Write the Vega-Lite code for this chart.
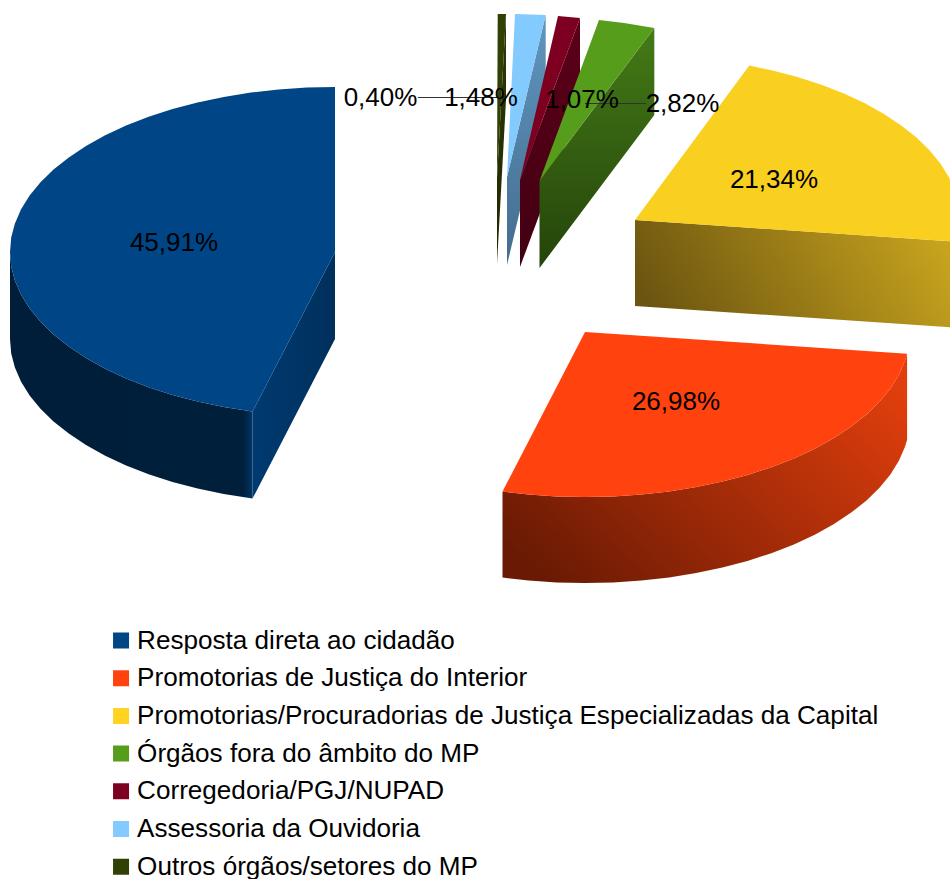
{"$schema":"https://vega.github.io/schema/vega-lite/v6.json","width":950,"height":879,"padding":0,"autosize":{"type":"fit","contains":"padding"},"background":"white","config":{"view":{"stroke":null},"font":"Liberation Sans"},
"datasets":{
"tops":[
{"k":"outros","i":0,"x":497,"y":178},{"k":"outros","i":1,"x":506,"y":14},{"k":"outros","i":2,"x":497.7,"y":14},
{"k":"ouv","i":0,"x":507,"y":177},{"k":"ouv","i":1,"x":545.7,"y":15},{"k":"ouv","i":2,"x":515,"y":14},
{"k":"corr","i":0,"x":520,"y":180},{"k":"corr","i":1,"x":580,"y":18},{"k":"corr","i":2,"x":558,"y":16},
{"k":"fora","i":0,"x":539.5,"y":181},{"k":"fora","i":1,"x":654.3,"y":28},{"k":"fora","i":2,"x":624.1,"y":23},{"k":"fora","i":3,"x":599,"y":20},
{"k":"capital","i":0,"x":635,"y":220},{"k":"capital","i":1,"x":957.1,"y":241.8},{"k":"capital","i":2,"x":958.8,"y":234.4},{"k":"capital","i":3,"x":960,"y":220},{"k":"capital","i":4,"x":958.8,"y":205.6},{"k":"capital","i":5,"x":955.1,"y":191.4},{"k":"capital","i":6,"x":948.9,"y":177.3},{"k":"capital","i":7,"x":940.4,"y":163.6},{"k":"capital","i":8,"x":929.5,"y":150.3},{"k":"capital","i":9,"x":916.5,"y":137.5},{"k":"capital","i":10,"x":901.2,"y":125.4},{"k":"capital","i":11,"x":884,"y":113.9},{"k":"capital","i":12,"x":864.8,"y":103.3},{"k":"capital","i":13,"x":843.9,"y":93.6},{"k":"capital","i":14,"x":821.4,"y":84.8},{"k":"capital","i":15,"x":797.5,"y":77.1},{"k":"capital","i":16,"x":772.4,"y":70.5},{"k":"capital","i":17,"x":749.3,"y":65.5},
{"k":"inter","i":0,"x":585,"y":332},{"k":"inter","i":1,"x":502.5,"y":491.6},{"k":"inter","i":2,"x":528.6,"y":494.5},{"k":"inter","i":3,"x":556.7,"y":496.4},{"k":"inter","i":4,"x":585,"y":497},{"k":"inter","i":5,"x":613.3,"y":496.4},{"k":"inter","i":6,"x":641.4,"y":494.5},{"k":"inter","i":7,"x":669.1,"y":491.4},{"k":"inter","i":8,"x":696.2,"y":487.1},{"k":"inter","i":9,"x":722.4,"y":481.5},{"k":"inter","i":10,"x":747.5,"y":474.9},{"k":"inter","i":11,"x":771.4,"y":467.2},{"k":"inter","i":12,"x":793.9,"y":458.4},{"k":"inter","i":13,"x":814.8,"y":448.7},{"k":"inter","i":14,"x":834,"y":438.1},{"k":"inter","i":15,"x":851.2,"y":426.6},{"k":"inter","i":16,"x":866.5,"y":414.5},{"k":"inter","i":17,"x":879.5,"y":401.7},{"k":"inter","i":18,"x":890.4,"y":388.4},{"k":"inter","i":19,"x":898.9,"y":374.7},{"k":"inter","i":20,"x":905.1,"y":360.6},{"k":"inter","i":21,"x":907.1,"y":353.8},
{"k":"resp","i":0,"x":335,"y":252},{"k":"resp","i":1,"x":335,"y":87},{"k":"resp","i":2,"x":306.7,"y":87.6},{"k":"resp","i":3,"x":278.6,"y":89.5},{"k":"resp","i":4,"x":250.9,"y":92.6},{"k":"resp","i":5,"x":223.8,"y":96.9},{"k":"resp","i":6,"x":197.6,"y":102.5},{"k":"resp","i":7,"x":172.5,"y":109.1},{"k":"resp","i":8,"x":148.6,"y":116.8},{"k":"resp","i":9,"x":126.1,"y":125.6},{"k":"resp","i":10,"x":105.2,"y":135.3},{"k":"resp","i":11,"x":86,"y":145.9},{"k":"resp","i":12,"x":68.8,"y":157.4},{"k":"resp","i":13,"x":53.5,"y":169.5},{"k":"resp","i":14,"x":40.5,"y":182.3},{"k":"resp","i":15,"x":29.6,"y":195.6},{"k":"resp","i":16,"x":21.1,"y":209.3},{"k":"resp","i":17,"x":14.9,"y":223.4},{"k":"resp","i":18,"x":11.2,"y":237.6},{"k":"resp","i":19,"x":10,"y":252},{"k":"resp","i":20,"x":11.2,"y":266.4},{"k":"resp","i":21,"x":14.9,"y":280.6},{"k":"resp","i":22,"x":21.1,"y":294.7},{"k":"resp","i":23,"x":29.6,"y":308.4},{"k":"resp","i":24,"x":40.5,"y":321.7},{"k":"resp","i":25,"x":53.5,"y":334.5},{"k":"resp","i":26,"x":68.8,"y":346.6},{"k":"resp","i":27,"x":86,"y":358.1},{"k":"resp","i":28,"x":105.2,"y":368.7},{"k":"resp","i":29,"x":126.1,"y":378.4},{"k":"resp","i":30,"x":148.6,"y":387.2},{"k":"resp","i":31,"x":172.5,"y":394.9},{"k":"resp","i":32,"x":197.6,"y":401.5},{"k":"resp","i":33,"x":223.8,"y":407.1},{"k":"resp","i":34,"x":252.5,"y":411.6}
],
"sides":[
{"k":"outros","i":0,"x":497,"y":178},{"k":"outros","i":1,"x":506,"y":14},{"k":"outros","i":2,"x":506,"y":100},{"k":"outros","i":3,"x":497,"y":264},
{"k":"ouv","i":0,"x":507,"y":177},{"k":"ouv","i":1,"x":545.7,"y":15},{"k":"ouv","i":2,"x":545.7,"y":103},{"k":"ouv","i":3,"x":507,"y":265},
{"k":"corr","i":0,"x":520,"y":180},{"k":"corr","i":1,"x":580,"y":18},{"k":"corr","i":2,"x":580,"y":105},{"k":"corr","i":3,"x":520,"y":267},
{"k":"fora","i":0,"x":539.5,"y":181},{"k":"fora","i":1,"x":654.3,"y":28},{"k":"fora","i":2,"x":654.3,"y":115},{"k":"fora","i":3,"x":539.5,"y":268},
{"k":"capital","i":0,"x":635,"y":220},{"k":"capital","i":1,"x":957.1,"y":241.8},{"k":"capital","i":2,"x":957.1,"y":327.8},{"k":"capital","i":3,"x":635,"y":306},
{"k":"resp","i":0,"x":335,"y":252},{"k":"resp","i":1,"x":335,"y":339},{"k":"resp","i":2,"x":252.5,"y":498.6},{"k":"resp","i":3,"x":252.5,"y":411.6}
],
"rims":[
{"k":"inter","x":502.5,"y":491.6,"y2":577.6},{"k":"inter","x":528.6,"y":494.5,"y2":580.5},{"k":"inter","x":556.7,"y":496.4,"y2":582.4},{"k":"inter","x":585,"y":497,"y2":583},{"k":"inter","x":613.3,"y":496.4,"y2":582.4},{"k":"inter","x":641.4,"y":494.5,"y2":580.5},{"k":"inter","x":669.1,"y":491.4,"y2":577.4},{"k":"inter","x":696.2,"y":487.1,"y2":573.1},{"k":"inter","x":722.4,"y":481.5,"y2":567.5},{"k":"inter","x":747.5,"y":474.9,"y2":560.9},{"k":"inter","x":771.4,"y":467.2,"y2":553.2},{"k":"inter","x":793.9,"y":458.4,"y2":544.4},{"k":"inter","x":814.8,"y":448.7,"y2":534.7},{"k":"inter","x":834,"y":438.1,"y2":524.1},{"k":"inter","x":851.2,"y":426.6,"y2":512.6},{"k":"inter","x":866.5,"y":414.5,"y2":500.5},{"k":"inter","x":879.5,"y":401.7,"y2":487.7},{"k":"inter","x":890.4,"y":388.4,"y2":474.4},{"k":"inter","x":898.9,"y":374.7,"y2":460.7},{"k":"inter","x":905.1,"y":360.6,"y2":446.6},{"k":"inter","x":907.1,"y":353.8,"y2":439.8},
{"k":"resp","x":10,"y":252,"y2":339},{"k":"resp","x":11.2,"y":266.4,"y2":353.4},{"k":"resp","x":14.9,"y":280.6,"y2":367.6},{"k":"resp","x":21.1,"y":294.7,"y2":381.7},{"k":"resp","x":29.6,"y":308.4,"y2":395.4},{"k":"resp","x":40.5,"y":321.7,"y2":408.7},{"k":"resp","x":53.5,"y":334.5,"y2":421.5},{"k":"resp","x":68.8,"y":346.6,"y2":433.6},{"k":"resp","x":86,"y":358.1,"y2":445.1},{"k":"resp","x":105.2,"y":368.7,"y2":455.7},{"k":"resp","x":126.1,"y":378.4,"y2":465.4},{"k":"resp","x":148.6,"y":387.2,"y2":474.2},{"k":"resp","x":172.5,"y":394.9,"y2":481.9},{"k":"resp","x":197.6,"y":401.5,"y2":488.5},{"k":"resp","x":223.8,"y":407.1,"y2":494.1},{"k":"resp","x":252.5,"y":411.6,"y2":498.6}
],
"leaders":[{"k":"a","i":0,"x":418,"y":97.5},{"k":"a","i":1,"x":497,"y":97.5},{"k":"b","i":0,"x":585,"y":103.5},{"k":"b","i":1,"x":646,"y":103.5}],
"labels":[{"t":"45,91%","x":174,"y":243},{"t":"26,98%","x":676,"y":402},{"t":"21,34%","x":774,"y":180},{"t":"2,82%","x":682.5,"y":104},{"t":"1,07%","x":582,"y":100},{"t":"1,48%","x":481,"y":98},{"t":"0,40%","x":380.5,"y":98}]
},
"encoding":{"x":{"field":"x","type":"quantitative","axis":null,"scale":{"domain":[0,950],"nice":false,"zero":false}},"y":{"field":"y","type":"quantitative","axis":null,"scale":{"domain":[879,0],"nice":false,"zero":false}}},
"layer":[
{"data":{"name":"sides"},"transform":[{"filter":{"field":"k","equal":"outros"}}],"mark":{"type":"line","clip":true,"strokeWidth":0,"fill":{"gradient":"linear","x1":0,"y1":0,"x2":0,"y2":1,"stops":[{"offset":0,"color":"#2c3904"},{"offset":1,"color":"#1e2803"}]}},"encoding":{"order":{"field":"i"}}},
{"data":{"name":"tops"},"transform":[{"filter":{"field":"k","equal":"outros"}}],"mark":{"type":"line","clip":true,"strokeWidth":0},"encoding":{"order":{"field":"i"},"fill":{"datum":"Outros órgãos/setores do MP"}}},
{"data":{"name":"sides"},"transform":[{"filter":{"field":"k","equal":"ouv"}}],"mark":{"type":"line","clip":true,"strokeWidth":0,"fill":{"gradient":"linear","x1":0,"y1":0,"x2":0,"y2":1,"stops":[{"offset":0,"color":"#6096bf"},{"offset":1,"color":"#446d8f"}]}},"encoding":{"order":{"field":"i"}}},
{"data":{"name":"tops"},"transform":[{"filter":{"field":"k","equal":"ouv"}}],"mark":{"type":"line","clip":true,"strokeWidth":0},"encoding":{"order":{"field":"i"},"fill":{"datum":"Assessoria da Ouvidoria"}}},
{"data":{"name":"sides"},"transform":[{"filter":{"field":"k","equal":"corr"}}],"mark":{"type":"line","clip":true,"strokeWidth":0,"fill":{"gradient":"linear","x1":0,"y1":0,"x2":0,"y2":1,"stops":[{"offset":0,"color":"#5c0018"},{"offset":1,"color":"#420012"}]}},"encoding":{"order":{"field":"i"}}},
{"data":{"name":"tops"},"transform":[{"filter":{"field":"k","equal":"corr"}}],"mark":{"type":"line","clip":true,"strokeWidth":0},"encoding":{"order":{"field":"i"},"fill":{"datum":"Corregedoria/PGJ/NUPAD"}}},
{"data":{"name":"sides"},"transform":[{"filter":{"field":"k","equal":"fora"}}],"mark":{"type":"line","clip":true,"strokeWidth":0,"fill":{"gradient":"linear","x1":0,"y1":0,"x2":0,"y2":1,"stops":[{"offset":0,"color":"#447a17"},{"offset":1,"color":"#24440a"}]}},"encoding":{"order":{"field":"i"}}},
{"data":{"name":"tops"},"transform":[{"filter":{"field":"k","equal":"fora"}}],"mark":{"type":"line","clip":true,"strokeWidth":0},"encoding":{"order":{"field":"i"},"fill":{"datum":"Órgãos fora do âmbito do MP"}}},
{"data":{"name":"sides"},"transform":[{"filter":{"field":"k","equal":"capital"}}],"mark":{"type":"line","clip":true,"strokeWidth":0,"fill":{"gradient":"linear","x1":0,"y1":0.6,"x2":1,"y2":0.4,"stops":[{"offset":0,"color":"#6b5410"},{"offset":1,"color":"#c8a41e"}]}},"encoding":{"order":{"field":"i"}}},
{"data":{"name":"tops"},"transform":[{"filter":{"field":"k","equal":"capital"}}],"mark":{"type":"line","clip":true,"strokeWidth":0,"fill":"#f9cf20"},"encoding":{"order":{"field":"i"}}},
{"data":{"name":"rims"},"transform":[{"filter":{"field":"k","equal":"inter"}}],"mark":{"type":"area","clip":true,"fill":{"gradient":"linear","x1":0,"y1":0.8,"x2":1,"y2":0.2,"stops":[{"offset":0,"color":"#6a1a04"},{"offset":1,"color":"#e03e0c"}]}},"encoding":{"y2":{"field":"y2"}}},
{"data":{"name":"tops"},"transform":[{"filter":{"field":"k","equal":"inter"}}],"mark":{"type":"line","clip":true,"strokeWidth":0},"encoding":{"order":{"field":"i"},"fill":{"datum":"Promotorias de Justiça do Interior"}}},
{"data":{"name":"sides"},"transform":[{"filter":{"field":"k","equal":"resp"}}],"mark":{"type":"line","clip":true,"strokeWidth":0,"fill":{"gradient":"linear","x1":0,"y1":0,"x2":1,"y2":0,"stops":[{"offset":0,"color":"#003a70"},{"offset":1,"color":"#00305c"}]}},"encoding":{"order":{"field":"i"}}},
{"data":{"name":"rims"},"transform":[{"filter":{"field":"k","equal":"resp"}}],"mark":{"type":"area","clip":true,"fill":{"gradient":"linear","x1":0,"y1":0,"x2":1,"y2":0,"stops":[{"offset":0,"color":"#001e3a"},{"offset":0.96,"color":"#001f3b"},{"offset":1,"color":"#003566"}]}},"encoding":{"y2":{"field":"y2"}}},
{"data":{"name":"tops"},"transform":[{"filter":{"field":"k","equal":"resp"}}],"mark":{"type":"line","clip":true,"strokeWidth":0},"encoding":{"order":{"field":"i"},"fill":{"datum":"Resposta direta ao cidadão","type":"nominal","scale":{"domain":["Resposta direta ao cidadão","Promotorias de Justiça do Interior","Promotorias/Procuradorias de Justiça Especializadas da Capital","Órgãos fora do âmbito do MP","Corregedoria/PGJ/NUPAD","Assessoria da Ouvidoria","Outros órgãos/setores do MP"],"range":["#004586","#ff420e","#ffd320","#579d1c","#7e0021","#83caff","#314004"]},"legend":{"title":null,"orient":"none","legendX":108,"legendY":627.5,"padding":0,"symbolType":"square","symbolSize":256,"symbolStrokeWidth":0,"symbolOpacity":1,"labelFont":"Liberation Sans","labelFontSize":26.1,"labelColor":"#000000","labelLimit":900,"labelOffset":3,"rowPadding":10.7,"clipHeight":26}}}},
{"data":{"name":"leaders"},"mark":{"type":"line","stroke":"#333333","strokeWidth":1},"encoding":{"order":{"field":"i"},"detail":{"field":"k"}}},
{"data":{"name":"labels"},"mark":{"type":"text","font":"Liberation Sans","fontSize":26,"align":"center","baseline":"middle","color":"#000000"},"encoding":{"text":{"field":"t"}}}
]}
